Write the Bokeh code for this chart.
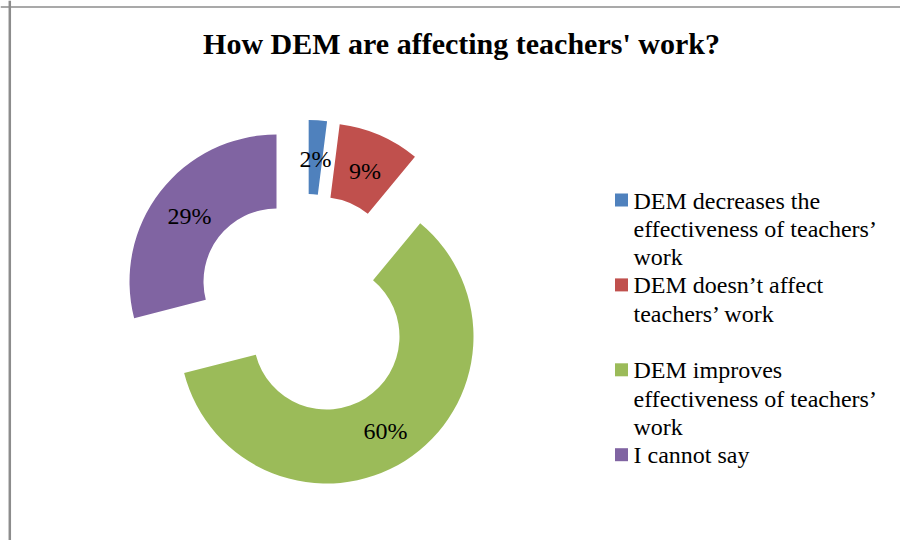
import numpy as np
from bokeh.plotting import figure
from bokeh.models import ColumnDataSource, Range1d, Label, Span
from bokeh.core.properties import value
from bokeh.embed import file_html
from bokeh.resources import INLINE

# ---- data ----
title_text = "How DEM are affecting teachers' work?"
categories = [
    "DEM decreases the effectiveness of teachers’ work",
    "DEM doesn’t affect teachers’ work",
    "DEM improves effectiveness of teachers’ work",
    "I cannot say",
]
legend_lines = [
    ["DEM decreases the", "effectiveness of teachers’", "work"],
    ["DEM doesn’t affect", "teachers’ work"],
    ["DEM improves", "effectiveness of teachers’", "work"],
    ["I cannot say"],
]
legend_start_line = [0, 3, 6, 9]
values = [2, 9, 60, 29]
colors = ["#4F81BD", "#C0504D", "#9BBB59", "#8064A2"]

# ---- layout (pixel units; data x = screen x, data y = -screen y) ----
W, H = 900, 540
cx, cy = 305.8, -304.2
r_out, r_in = 147, 73
explode = 37.7
serif = "Liberation Serif"

vals = np.array(values, dtype=float)
frac = vals / vals.sum()
a1 = np.cumsum(frac)
a0 = a1 - frac
start = np.pi / 2 - 2 * np.pi * a1
end = np.pi / 2 - 2 * np.pi * a0
mid = np.pi / 2 - np.pi * (a0 + a1)
xs = cx + explode * np.cos(mid)
ys = cy + explode * np.sin(mid)
r_mid = (r_out + r_in) / 2
lx = xs + r_mid * np.cos(mid)
ly = ys + r_mid * np.sin(mid)

src = ColumnDataSource(dict(
    x=xs, y=ys, start=start, end=end, color=colors, cat=categories,
    lx=lx, ly=ly, label=[f"{v}%" for v in values],
))

p = figure(width=W, height=H, output_backend="svg", toolbar_location=None,
           x_range=Range1d(0, W), y_range=Range1d(-H, 0),
           min_border=0, outline_line_color=None)
p.axis.visible = False
p.grid.visible = False
p.background_fill_color = "white"
p.border_fill_color = "white"

# chart frame (top and left edges visible)
p.add_layout(Span(location=9.3, dimension="height", line_color="#8c8c8c", line_width=2.5))
p.add_layout(Span(location=-6.5, dimension="width", line_color="#8c8c8c", line_width=1.5))

p.annular_wedge(x="x", y="y", inner_radius=r_in, outer_radius=r_out,
                start_angle="start", end_angle="end", direction="anticlock",
                fill_color="color", line_color=None, source=src)

p.text(x="lx", y="ly", text="label", source=src, text_align="center",
       text_baseline="middle", text_font=value(serif), text_font_size="24px",
       text_color="black", y_offset=1.5)

# title
p.add_layout(Label(x=461, y=-43, text=title_text, text_align="center",
                   text_baseline="alphabetic", text_font=serif,
                   text_font_size="30px", text_font_style="bold",
                   text_color="black"))

# legend
line_h = 28.3
base0 = 200
sq = 13
tx, ty, tt = [], [], []
sx, sy, sc = [], [], []
for lines, L0, col in zip(legend_lines, legend_start_line, colors):
    b = base0 + line_h * L0
    sx.append(621)
    sy.append(-(b - 0.5))
    sc.append(col)
    for k, t in enumerate(lines):
        tx.append(633)
        ty.append(-(b + line_h * k))
        tt.append(t)

p.scatter(x=sx, y=sy, marker="square", size=sq, fill_color=sc, line_color=None)
p.text(x=tx, y=ty, text=tt, text_align="left", text_baseline="alphabetic",
       text_font=value(serif), text_font_size="24px", text_color="black")

open("out.html", "w").write(file_html(p, INLINE))
